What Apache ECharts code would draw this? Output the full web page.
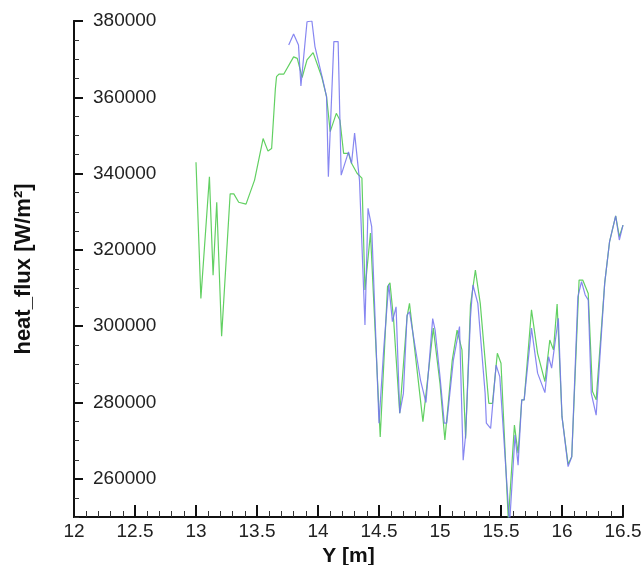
<!DOCTYPE html>
<html>
<head>
<meta charset="utf-8">
<script src="https://cdn.jsdelivr.net/npm/echarts@6/dist/echarts.min.js"></script>
<style>html,body{margin:0;padding:0;background:#fff}#c{width:643px;height:565px}</style>
</head>
<body>
<div id="c"></div>
<script>
const greenX = [13.00,13.04,13.11,13.14,13.17,13.21,13.28,13.31,13.35,13.41,13.48,13.55,13.59,13.62,13.65,13.66,13.68,13.72,13.80,13.83,13.87,13.91,13.96,14.03,14.07,14.10,14.15,14.18,14.21,14.25,14.275,14.32,14.36,14.385,14.43,14.51,14.57,14.59,14.62,14.67,14.73,14.75,14.86,14.945,14.96,15.00,15.04,15.10,15.14,15.18,15.21,15.25,15.29,15.33,15.40,15.43,15.47,15.50,15.56,15.61,15.64,15.67,15.69,15.75,15.80,15.86,15.90,15.93,15.96,16.00,16.05,16.08,16.14,16.17,16.215,16.25,16.28,16.35,16.39,16.44,16.47,16.50];
const greenY = [343000,307300,339200,313400,332500,297400,334700,334700,332500,332000,338300,349200,345900,346600,362000,365400,366100,366100,370600,370200,365200,369800,371700,365400,360200,351000,355800,354000,345300,345300,342700,340100,338800,309500,324400,271000,310400,311400,301600,277200,302500,306000,275000,299500,299000,285000,270200,291000,299000,293800,270600,305600,314700,306000,279800,279800,292900,290300,249000,274100,266700,280700,280700,304300,292900,285500,296400,293800,305800,276300,263800,265800,312100,312100,308600,282900,280700,311300,322200,328900,323500,326500];
const blueX = [13.76,13.80,13.84,13.86,13.91,13.95,13.975,14.04,14.07,14.085,14.13,14.165,14.19,14.25,14.275,14.30,14.34,14.385,14.41,14.44,14.50,14.54,14.58,14.61,14.64,14.67,14.70,14.73,14.75,14.84,14.885,14.94,14.96,15.00,15.035,15.055,15.11,15.16,15.19,15.21,15.25,15.27,15.31,15.37,15.38,15.415,15.46,15.49,15.57,15.615,15.64,15.67,15.69,15.75,15.80,15.86,15.89,15.915,15.97,16.00,16.05,16.08,16.13,16.16,16.19,16.215,16.24,16.28,16.35,16.39,16.44,16.47,16.50];
const blueY = [373700,376600,373700,363000,379800,380000,373300,364500,360200,339200,374600,374600,339600,345700,342700,350600,338300,300300,330900,326100,274600,294600,311000,301200,305100,277200,282400,302900,303800,285900,280000,302000,299000,286800,274600,274600,291200,299900,264900,271500,302500,310800,306000,282400,274600,273200,289800,286800,248000,271500,263600,280700,280700,299500,287700,282600,292000,289000,302100,276300,263200,265800,307700,311700,308200,306900,282400,276700,311300,322200,328900,322600,326500];
const xTicks = ['12','12.5','13','13.5','14','14.5','15','15.5','16','16.5'];
const yTicks = [260000,280000,300000,320000,340000,360000,380000];

const zip = (a, b) => a.map((v, i) => [v, b[i]]);
const chart = echarts.init(document.getElementById('c'), null, {renderer: 'canvas'});
const font = "'Liberation Sans', Arial, sans-serif";
const Y_MIN = 250000, Y_MAX = 380000;
chart.setOption({
  animation: false,
  backgroundColor: '#fff',
  grid: {left: 74, right: 20, top: 21, bottom: 48, containLabel: false, outerBoundsMode: 'none'},
  xAxis: {
    type: 'value', min: 12, max: 16.5, interval: 0.5,
    name: 'Y [m]', nameLocation: 'middle', nameGap: 23,
    nameTextStyle: {fontFamily: font, fontWeight: 'bold', fontSize: 21, color: '#111', verticalAlign: 'top'},
    axisLine: {show: true, onZero: false, lineStyle: {color: '#111', width: 2}},
    axisTick: {show: true, inside: true, length: 12, lineStyle: {color: '#111', width: 2}},
    minorTick: {show: true, splitNumber: 5, length: 6, lineStyle: {color: '#333', width: 1}},
    splitLine: {show: false},
    axisLabel: {margin: 5, fontFamily: font, fontSize: 19, color: '#222',
      formatter: v => xTicks.find(t => Math.abs(parseFloat(t) - v) < 1e-6) || ''}
  },
  yAxis: [{
    type: 'value', min: Y_MIN, max: Y_MAX, interval: 5000, position: 'left', offset: 0,
    axisLine: {show: true, onZero: false, lineStyle: {color: '#111', width: 2}},
    axisTick: {show: true, inside: true, length: 5, lineStyle: {color: '#333', width: 1}},
    axisLabel: {show: false},
    splitLine: {show: false}
  }, {
    type: 'value', min: Y_MIN, max: Y_MAX, interval: 20000, position: 'left', offset: 0,
    name: 'heat_flux [W/m²]', nameLocation: 'middle', nameGap: 39, nameRotate: 90,
    nameTextStyle: {fontFamily: font, fontWeight: 'bold', fontSize: 22, color: '#111'},
    axisLine: {show: true, onZero: false, lineStyle: {color: '#111', width: 2}},
    axisTick: {show: true, inside: true, length: 9, customValues: yTicks, lineStyle: {color: '#111', width: 2}},
    splitLine: {show: false},
    axisLabel: {inside: true, margin: 19, fontFamily: font, fontSize: 19, color: '#222', customValues: yTicks,
      formatter: v => String(v)}
  }],
  series: [
    {type: 'line', data: zip(greenX, greenY), showSymbol: false, clip: true,
     lineStyle: {color: '#62d062', width: 1.2}, z: 2},
    {type: 'line', data: zip(blueX, blueY), showSymbol: false, clip: true,
     lineStyle: {color: '#7272ee', width: 1.2, opacity: 0.85}, z: 3}
  ]
});
</script>
</body>
</html>
